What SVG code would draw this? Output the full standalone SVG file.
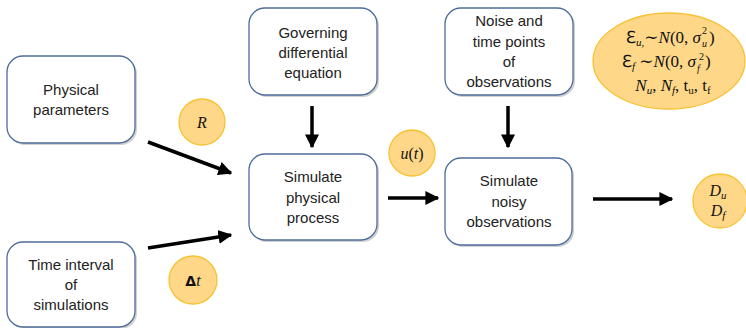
<svg xmlns="http://www.w3.org/2000/svg" width="746" height="328" viewBox="0 0 746 328">
<defs>
<style>
.box{fill:#fff;stroke:#4d6c9c;stroke-width:1.3}
.shadow{fill:#d0d0d0}
.t{font-family:"Liberation Sans",Arial,sans-serif;font-size:15px;fill:#222;text-anchor:middle}
.bub{fill:#fed789;stroke:#f7c232;stroke-width:1.3}
.m{font-family:"Liberation Serif","DejaVu Serif",serif;font-size:16px;fill:#111;text-anchor:middle}
.e{font-family:"Liberation Serif","DejaVu Serif",serif;font-size:17px;fill:#111}
.s{font-family:"Liberation Serif","DejaVu Serif",serif;font-size:10px;fill:#111}
.i{font-style:italic}
.conn{stroke:#000;stroke-width:3.5;fill:none}
</style>
<marker id="ah" viewBox="0 0 10 10" refX="9" refY="5" markerWidth="4" markerHeight="4" markerUnits="strokeWidth" orient="auto">
<path d="M0,0 L10,5 L0,10 Z" fill="#000"/>
</marker>
</defs>
<rect width="746" height="328" fill="#fff"/>

<g id="physical-parameters">
<rect class="shadow" x="9" y="58" width="128" height="87" rx="16"/>
<rect class="box" x="7" y="56" width="128" height="87" rx="16"/>
<text class="t" x="71" y="95">Physical</text>
<text class="t" x="71" y="115">parameters</text>
</g>

<g id="time-interval">
<rect class="shadow" x="9" y="244" width="128" height="85" rx="16"/>
<rect class="box" x="7" y="242" width="128" height="85" rx="16"/>
<text class="t" x="71" y="270">Time interval</text>
<text class="t" x="71" y="290">of</text>
<text class="t" x="71" y="310">simulations</text>
</g>

<g id="governing-equation">
<rect class="shadow" x="251" y="10" width="128" height="87" rx="16"/>
<rect class="box" x="249" y="8" width="128" height="87" rx="16"/>
<text class="t" x="313" y="38">Governing</text>
<text class="t" x="313" y="58">differential</text>
<text class="t" x="313" y="78">equation</text>
</g>

<g id="noise-time-points">
<rect class="shadow" x="447" y="10" width="128" height="87" rx="16"/>
<rect class="box" x="445" y="8" width="128" height="87" rx="16"/>
<text class="t" x="509" y="26">Noise and</text>
<text class="t" x="509" y="47">time points</text>
<text class="t" x="509" y="67">of</text>
<text class="t" x="509" y="87">observations</text>
</g>

<g id="simulate-physical">
<rect class="shadow" x="251" y="156" width="128" height="86" rx="16"/>
<rect class="box" x="249" y="154" width="128" height="86" rx="16"/>
<text class="t" x="313" y="182">Simulate</text>
<text class="t" x="313" y="203">physical</text>
<text class="t" x="313" y="223">process</text>
</g>

<g id="simulate-noisy">
<rect class="shadow" x="447" y="160" width="127" height="87" rx="16"/>
<rect class="box" x="445" y="158" width="127" height="87" rx="16"/>
<text class="t" x="509" y="186">Simulate</text>
<text class="t" x="509" y="207">noisy</text>
<text class="t" x="509" y="227">observations</text>
</g>

<g id="noise-model">
<ellipse class="bub" cx="669" cy="61" rx="76" ry="48"/>
<text class="e" x="701" y="43" text-anchor="end">ℇ<tspan class="i" font-size="11" dy="3">u,</tspan><tspan dy="-3">∼</tspan><tspan class="i">N</tspan>(0, <tspan class="i">σ</tspan></text>
<text class="s i" x="702" y="47">u</text>
<text class="s" x="702" y="34">2</text>
<text class="e" x="709" y="43">)</text>
<text class="e" x="696" y="67" text-anchor="end">ℇ<tspan class="i" font-size="11" dy="3">f</tspan><tspan dy="-3"> ∼</tspan><tspan class="i">N</tspan>(0, <tspan class="i">σ</tspan></text>
<text class="s i" x="697" y="72">f</text>
<text class="s" x="699" y="60">2</text>
<text class="e" x="705" y="67">)</text>
<text class="e" x="673" y="91" text-anchor="middle"><tspan class="i">N</tspan><tspan class="i" font-size="11" dy="3">u</tspan><tspan dy="-3">, </tspan><tspan class="i">N</tspan><tspan class="i" font-size="11" dy="3">f</tspan><tspan dy="-3">, t</tspan><tspan font-size="11" dy="3">u</tspan><tspan dy="-3">, t</tspan><tspan font-size="11" dy="3">f</tspan></text>
</g>

<g id="label-R">
<circle class="bub" cx="202" cy="122" r="23"/>
<text class="m i" x="202" y="128">R</text>
</g>

<g id="label-dt">
<circle class="bub" cx="193" cy="280" r="24"/>
<text class="m" x="193" y="286"><tspan font-weight="bold" font-family="DejaVu Sans, sans-serif" font-size="14">Δ</tspan><tspan class="i">t</tspan></text>
</g>

<g id="label-ut">
<circle class="bub" cx="412" cy="153" r="23"/>
<text class="m" x="412" y="159"><tspan class="i">u</tspan>(<tspan class="i">t</tspan>)</text>
</g>

<g id="output-D">
<circle class="bub" cx="720" cy="201" r="27"/>
<text class="m" x="718" y="196"><tspan class="i">D</tspan><tspan class="i" font-size="11" dy="3">u</tspan></text>
<text class="m" x="718" y="216"><tspan class="i">D</tspan><tspan class="i" font-size="11" dy="3">f</tspan></text>
</g>

<g id="connectors">
<line class="conn" x1="148" y1="142" x2="231" y2="173" marker-end="url(#ah)"/>
<line class="conn" x1="148" y1="248" x2="231" y2="235" marker-end="url(#ah)"/>
<line class="conn" x1="312" y1="106" x2="312" y2="147" marker-end="url(#ah)"/>
<line class="conn" x1="508" y1="106" x2="508" y2="147" marker-end="url(#ah)"/>
<line class="conn" x1="388" y1="198" x2="438" y2="198" marker-end="url(#ah)"/>
<line class="conn" x1="593" y1="199" x2="672" y2="199" marker-end="url(#ah)"/>
</g>
</svg>
